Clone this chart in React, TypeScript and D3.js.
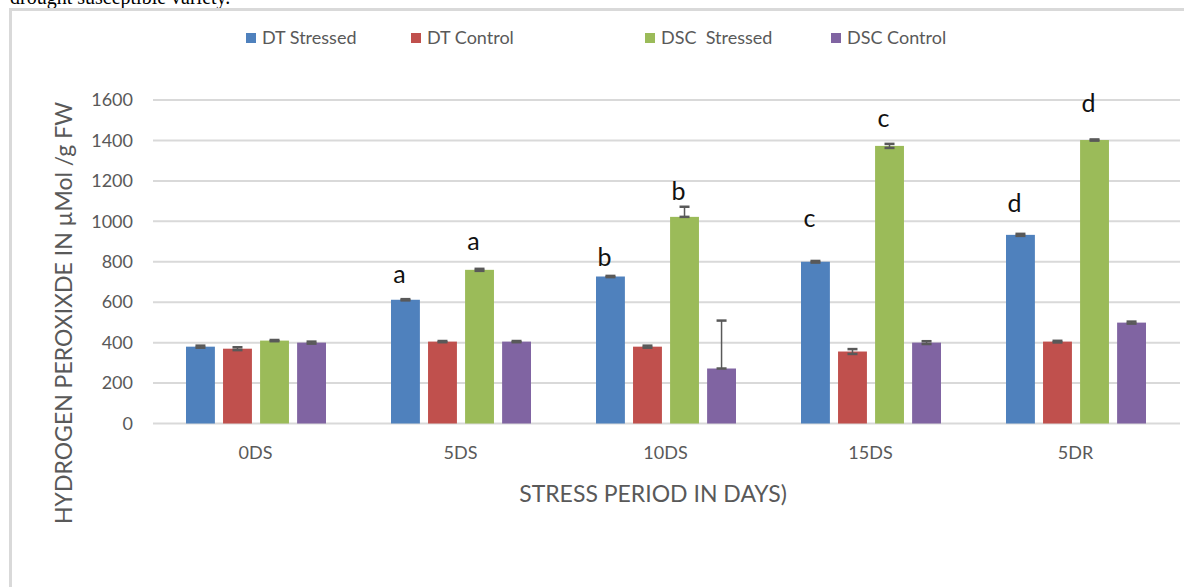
import React, { useEffect, useRef } from 'react';
import * as d3 from 'd3';

const categories = ['0DS', '5DS', '10DS', '15DS', '5DR'];
const seriesNames = ['DT Stressed', 'DT Control', 'DSC  Stressed', 'DSC Control'];
const seriesColors = ['#4f81bd', '#c0504d', '#9bbb59', '#8064a2'];

const dtStressed = [380, 612, 727, 800, 933];
const dtControl = [370, 405, 380, 356, 405];
const dscStressed = [410, 760, 1022, 1373, 1402];
const dscControl = [400, 405, 272, 400, 499];

// error bars (up / down), same layout as the values
const errUp = [
  [5, 3, 3, 4, 5],
  [7, 3, 5, 12, 4],
  [3, 5, 50, 10, 3],
  [5, 3, 237, 7, 5],
];
const errDown = [
  [5, 3, 3, 4, 5],
  [7, 3, 5, 12, 4],
  [3, 5, 0, 10, 3],
  [5, 3, 0, 7, 5],
];

// significance letters: [series index, category index, letter, baseline value]
const letters: [number, number, string, number][] = [
  [0, 1, 'a', 696],
  [2, 1, 'a', 859],
  [0, 2, 'b', 777],
  [2, 2, 'b', 1106],
  [0, 3, 'c', 973],
  [2, 3, 'c', 1467],
  [0, 4, 'd', 1047],
  [2, 4, 'd', 1541],
];

const yTicks = [0, 200, 400, 600, 800, 1000, 1200, 1400, 1600];

const W = 1184;
const H = 587;
const FONT = "Lato, 'Open Sans', sans-serif";
const GREY = '#595959';

const App: React.FC = () => {
  const svgRef = useRef<SVGSVGElement>(null);

  useEffect(() => {
    if (!svgRef.current) return;
    const svg = d3.select(svgRef.current);
    svg.selectAll('*').remove();

    const values = [dtStressed, dtControl, dscStressed, dscControl];

    const x = d3.scaleBand<string>().domain(categories).range([153, 1178]).padding(0);
    const xi = d3.scaleBand<number>().domain(d3.range(seriesNames.length)).range([33, 173]).paddingInner(0.22);
    const y = d3.scaleLinear().domain([0, 1600]).range([423.5, 100]);

    // text above the chart (cut off in the page)
    svg.append('text')
      .attr('x', 10)
      .attr('y', 4)
      .style('font-family', "'Liberation Serif', serif")
      .style('font-size', '20px')
      .style('fill', '#000')
      .text('drought susceptible variety.');

    // chart frame
    svg.append('rect')
      .attr('x', 10.5)
      .attr('y', 9.5)
      .attr('width', 1300)
      .attr('height', 700)
      .attr('fill', 'none')
      .attr('stroke', '#d9d9d9')
      .attr('stroke-width', 3);

    // gridlines
    svg.append('g')
      .selectAll('line')
      .data(yTicks)
      .join('line')
      .attr('x1', 153)
      .attr('x2', 1180)
      .attr('y1', d => y(d))
      .attr('y2', d => y(d))
      .attr('stroke', '#d9d9d9')
      .attr('stroke-width', 2);

    // y tick labels
    svg.append('g')
      .selectAll('text')
      .data(yTicks)
      .join('text')
      .attr('x', 133)
      .attr('y', d => y(d))
      .attr('dy', '0.35em')
      .attr('text-anchor', 'end')
      .style('font-family', FONT)
      .style('font-size', '18px')
      .style('fill', GREY)
      .text(d => d);

    // bars
    values.forEach((vals, s) => {
      svg.append('g')
        .selectAll('rect')
        .data(vals)
        .join('rect')
        .attr('x', (d, i) => x(categories[i])! + xi(s)!)
        .attr('y', d => y(d))
        .attr('width', xi.bandwidth())
        .attr('height', d => y(0) - y(d))
        .attr('fill', seriesColors[s]);
    });

    // error bars
    values.forEach((vals, s) => {
      vals.forEach((v, i) => {
        const cx = x(categories[i])! + xi(s)! + xi.bandwidth() / 2;
        const top = y(v + errUp[s][i]);
        const bot = y(v - errDown[s][i]);
        const g = svg.append('g').attr('stroke', GREY);
        g.append('line').attr('x1', cx).attr('x2', cx).attr('y1', top).attr('y2', bot).attr('stroke-width', 1.5);
        g.append('line').attr('x1', cx - 5).attr('x2', cx + 5).attr('y1', top).attr('y2', top).attr('stroke-width', 2.5);
        g.append('line').attr('x1', cx - 5).attr('x2', cx + 5).attr('y1', bot).attr('y2', bot).attr('stroke-width', 2.5);
      });
    });

    // significance letters
    svg.append('g')
      .selectAll('text')
      .data(letters)
      .join('text')
      .attr('x', d => x(categories[d[1]])! + xi(d[0])! + xi.bandwidth() / 2 - 6)
      .attr('y', d => y(d[3]))
      .attr('text-anchor', 'middle')
      .style('font-family', FONT)
      .style('font-size', '25px')
      .style('fill', '#111')
      .text(d => d[2]);

    // x labels
    svg.append('g')
      .selectAll('text')
      .data(categories)
      .join('text')
      .attr('x', d => x(d)! + x.bandwidth() / 2)
      .attr('y', 459)
      .attr('text-anchor', 'middle')
      .style('font-family', FONT)
      .style('font-size', '18px')
      .style('fill', GREY)
      .text(d => d);

    // axis titles
    svg.append('text')
      .attr('x', 653)
      .attr('y', 502)
      .attr('text-anchor', 'middle')
      .style('font-family', FONT)
      .style('font-size', '23px')
      .style('fill', GREY)
      .text('STRESS PERIOD IN DAYS)');

    svg.append('text')
      .attr('transform', 'translate(72,313) rotate(-90)')
      .attr('text-anchor', 'middle')
      .style('font-family', FONT)
      .style('font-size', '23px')
      .style('fill', GREY)
      .text('HYDROGEN PEROXIXDE IN µMol /g FW');

    // legend
    const legendX = [246, 411, 645, 831];
    const lg = svg.append('g')
      .selectAll('g')
      .data(seriesNames)
      .join('g')
      .attr('transform', (d, i) => `translate(${legendX[i]},33)`);
    lg.append('rect')
      .attr('width', 10)
      .attr('height', 10)
      .attr('fill', (d, i) => seriesColors[i]);
    lg.append('text')
      .attr('x', 16)
      .attr('y', 5)
      .attr('dy', '0.35em')
      .style('font-family', FONT)
      .style('font-size', '18px')
      .style('fill', GREY)
      .style('white-space', 'pre')
      .text(d => d);
  }, []);

  return (
    <svg
      ref={svgRef}
      width={W}
      height={H}
      style={{ position: 'absolute', left: 0, top: 0, background: '#fff' }}
    />
  );
};

export default App;
